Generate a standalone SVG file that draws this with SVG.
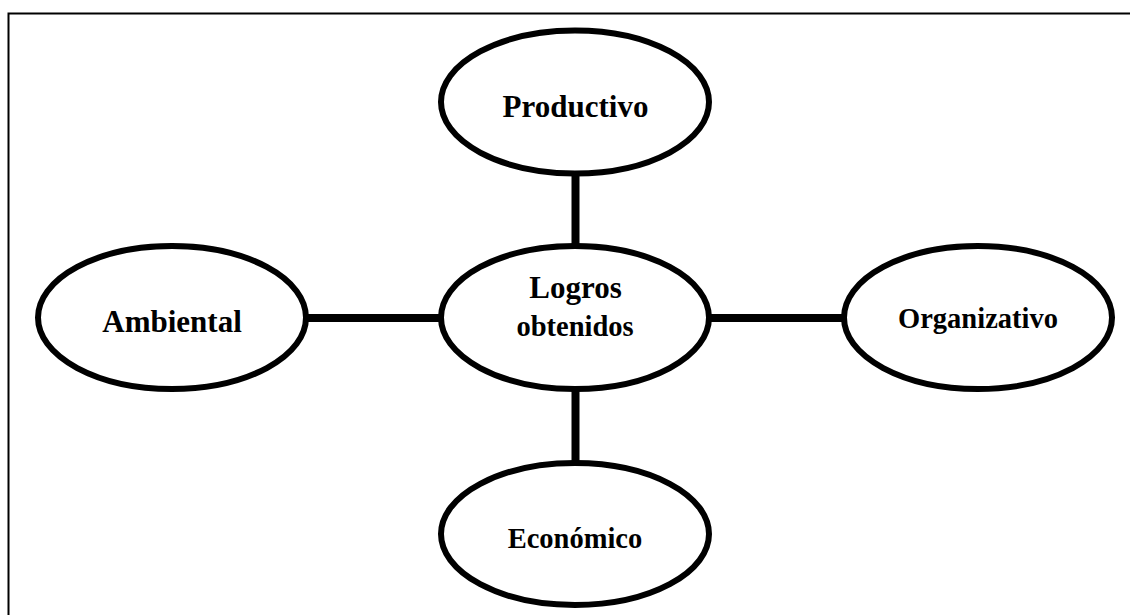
<svg xmlns="http://www.w3.org/2000/svg" width="1130" height="615" viewBox="0 0 1130 615">
<style>
ellipse{fill:#fff;stroke:#000;stroke-width:6}
line{stroke:#000;stroke-width:8}
text{font-family:"Liberation Serif","Times New Roman",serif;font-weight:bold;text-anchor:middle;fill:#000}
</style>
<rect width="1130" height="615" fill="#fff"/>
<path d="M8.5 615V13.5H1130" fill="none" stroke="#000" stroke-width="2"/>
<g id="connectors">
<line x1="575.5" y1="170" x2="575.5" y2="246"/>
<line x1="575.5" y1="388" x2="575.5" y2="462"/>
<line x1="306" y1="318" x2="442" y2="318"/>
<line x1="708" y1="318" x2="846" y2="318"/>
</g>
<g id="productivo"><ellipse cx="575" cy="102" rx="134" ry="71.5"/><text x="575.5" y="117" font-size="31">Productivo</text></g>
<g id="logros"><ellipse cx="575" cy="317.5" rx="134" ry="71.5"/><text x="575.5" y="298" font-size="31">Logros</text><text x="575" y="336" font-size="28.5">obtenidos</text></g>
<g id="ambiental"><ellipse cx="172" cy="317.5" rx="134" ry="71.5"/><text x="172" y="332" font-size="31">Ambiental</text></g>
<g id="organizativo"><ellipse cx="978" cy="317.5" rx="134" ry="71.5"/><text x="978" y="328" font-size="28.5">Organizativo</text></g>
<g id="economico"><ellipse cx="575" cy="534" rx="134" ry="71"/><text x="575" y="548" font-size="28.5">Económico</text></g>
</svg>
